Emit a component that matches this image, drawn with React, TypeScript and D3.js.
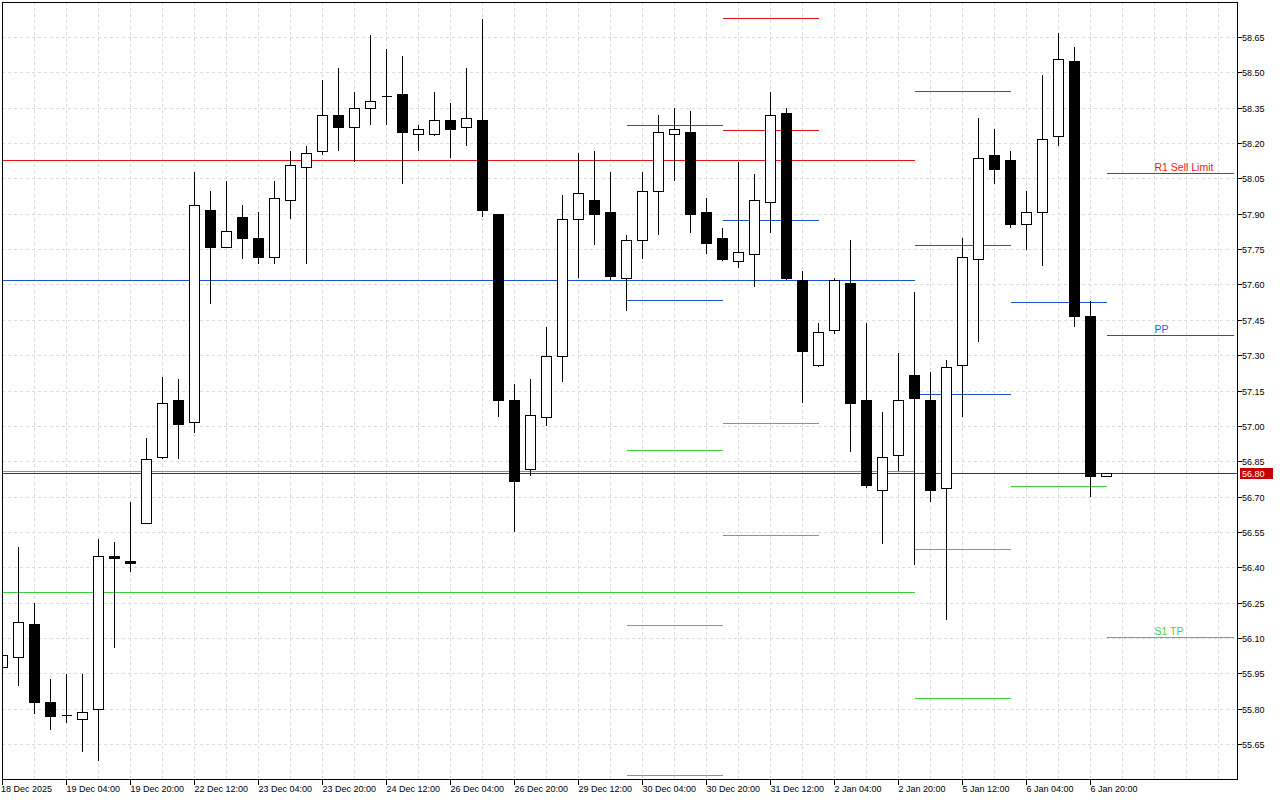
import React from "react";
import * as d3 from "d3";

// ---- data ----
const opens = [55.98,56.02,56.16,55.83,55.775,55.76,55.80,56.45,56.43,56.59,56.87,57.11,57.02,57.92,57.76,57.89,57.80,57.72,57.96,58.10,58.17,58.32,58.27,58.35,58.40,58.41,58.24,58.24,58.30,58.27,58.30,57.90,57.11,56.82,57.04,57.30,57.88,57.96,57.91,57.63,57.79,58.00,58.24,58.25,57.91,57.80,57.70,57.73,57.95,58.33,57.62,57.26,57.41,57.61,57.11,56.73,56.88,57.22,57.11,56.74,57.26,57.71,58.15,58.13,57.86,57.91,58.23,58.55,57.47,56.79];
const highs = [56.04,56.49,56.25,55.93,55.95,55.95,56.52,56.51,56.68,56.95,57.21,57.20,58.08,58.00,58.04,57.94,57.91,58.04,58.17,58.19,58.47,58.52,58.42,58.66,58.60,58.57,58.28,58.42,58.37,58.52,58.73,57.90,57.18,57.20,57.42,57.98,58.16,58.17,58.08,57.81,58.08,58.32,58.35,58.34,57.97,57.84,58.12,58.07,58.42,58.35,57.66,57.44,57.63,57.79,57.44,57.06,57.31,57.57,57.23,57.28,57.80,58.31,58.26,58.17,58.00,58.49,58.67,58.61,57.53,56.80];
const lows = [55.96,55.90,55.78,55.71,55.74,55.62,55.58,56.06,56.38,56.59,56.86,56.86,56.97,57.52,57.76,57.71,57.69,57.69,57.88,57.69,58.15,58.17,58.12,58.28,58.28,58.03,58.17,58.23,58.14,58.19,57.89,57.04,56.55,56.79,57.00,57.19,57.63,57.77,57.62,57.49,57.71,57.81,58.04,57.82,57.73,57.70,57.67,57.59,57.82,57.62,57.10,57.25,57.39,56.89,56.74,56.50,56.81,56.41,56.68,56.18,57.04,57.36,58.03,57.84,57.75,57.68,58.19,57.42,56.70,56.79];
const closes = [56.03,56.17,55.83,55.77,55.775,55.79,56.45,56.44,56.42,56.86,57.10,57.01,57.94,57.76,57.83,57.80,57.72,57.97,58.11,58.16,58.32,58.27,58.35,58.38,58.40,58.25,58.26,58.30,58.26,58.31,57.92,57.11,56.77,57.05,57.30,57.88,57.99,57.90,57.64,57.79,58.00,58.25,58.26,57.90,57.78,57.71,57.74,57.96,58.32,57.63,57.32,57.40,57.62,57.10,56.75,56.87,57.11,57.12,56.73,57.25,57.72,58.14,58.09,57.86,57.91,58.22,58.56,57.47,56.79,56.80];

const timeLabels = ["18 Dec 2025","19 Dec 04:00","19 Dec 20:00","22 Dec 12:00","23 Dec 04:00","23 Dec 20:00","24 Dec 12:00","26 Dec 04:00","26 Dec 20:00","29 Dec 12:00","30 Dec 04:00","30 Dec 20:00","31 Dec 12:00","2 Jan 04:00","2 Jan 20:00","5 Jan 12:00","6 Jan 04:00","6 Jan 20:00"];
const priceTicks = [55.65,55.80,55.95,56.10,56.25,56.40,56.55,56.70,56.85,57.00,57.15,57.30,57.45,57.60,57.75,57.90,58.05,58.20,58.35,58.50,58.65];
const currentPrice = 56.80;

// pivot level segments: [fromBar, toBar, kind, value]
const levelFrom = [-1,-1,-1,-1, 39,39,39,39,39, 45,45,45,45,45, 57,57,57,57,57, 63,63, 69,69,69];
const levelTo   = [57,57,57,57, 45,45,45,45,45, 51,51,51,51,51, 63,63,63,63,63, 69,69, 77,77,77];
const levelKind = ["R","P","S","S", "R","P","S","S","S", "R","R","P","S","S", "R","R","P","S","S", "P","S", "R","P","S"];
const levelValue = [58.126,57.617,56.809,56.295, 58.278,57.535,56.898,56.155,55.518, 58.732,58.257,57.875,57.013,56.537, 58.422,57.768,57.136,56.478,55.845, 57.526,56.745, 58.074,57.386,56.104];
const levelLabelKind = ["R","P","S"];
const levelLabelText = ["R1 Sell Limit","PP","S1 TP"];
const levelLabelValue = [58.074,57.386,56.104];
const levelLabelBar = 72;

const kindColor: Record<string,string> = { R: "#e61414", P: "#1a52d0", S: "#3ccf3c" };
const labelColor: Record<string,string> = { R: "#f01818", P: "#2060f0", S: "#44d444" };

export default function App() {
  const left = 2, top = 2, right = 1237, bottom = 779;
  const x = d3.scaleLinear().domain([0, 69]).range([2.5, 2.5 + 16 * 69]);
  const y = d3.scaleLinear().domain([55.65, 58.65]).range([744.5, 37.5]);
  const ry = (v: number) => Math.round(y(v) - 0.5) + 0.5;

  const gridXs = d3.range(2, 78, 2).map((i) => x(i)).filter((v) => v < right);
  const font = "'Liberation Sans', Arial, sans-serif";

  return (
    <svg width={1280} height={800} style={{ position: "absolute", left: 0, top: 0, background: "#fff" }}>
      <defs>
        <clipPath id="plot">
          <rect x={left} y={top} width={right - left} height={bottom - top} />
        </clipPath>
      </defs>
      <rect x={0} y={0} width={1280} height={800} fill="#fff" />
      {/* grid */}
      <g stroke="#dcdcdc" strokeDasharray="3,3" shapeRendering="crispEdges">
        {gridXs.map((gx, i) => (
          <line key={"gx" + i} x1={gx} x2={gx} y1={top} y2={bottom} />
        ))}
        {priceTicks.map((p, i) => (
          <line key={"gy" + i} x1={left} x2={right} y1={ry(p)} y2={ry(p)} />
        ))}
      </g>
      <g clipPath="url(#plot)" shapeRendering="crispEdges">
        {/* levels */}
        {levelValue.map((v, i) => (
          <line key={"lv" + i} x1={x(levelFrom[i])} x2={levelTo[i] === 77 ? x(levelTo[i]) - 0.5 : x(levelTo[i])} y1={ry(v)} y2={ry(v)} stroke={kindColor[levelKind[i]]} strokeWidth={1} />
        ))}
        {/* current price line */}
        <line x1={left} x2={right} y1={ry(currentPrice)} y2={ry(currentPrice)} stroke="#b80000" strokeWidth={1} />
        {/* candles */}
        {opens.map((o, i) => {
          const c = closes[i];
          const cx = x(i);
          const bull = c >= o;
          const yTop = Math.round(y(Math.max(o, c)));
          const yBot = Math.round(y(Math.min(o, c)));
          const h = yBot - yTop;
          return (
            <g key={"c" + i}>
              <line x1={cx} x2={cx} y1={Math.round(y(highs[i]))} y2={Math.round(y(lows[i]))} stroke="#000" strokeWidth={1} />
              {h < 1 ? (
                <line x1={cx - 5} x2={cx + 5} y1={yTop + 0.5} y2={yTop + 0.5} stroke="#000" strokeWidth={1} />
              ) : (
                <rect x={cx - 5} y={yTop + 0.5} width={10} height={h} fill={bull ? "#fff" : "#000"} stroke="#000" strokeWidth={1} />
              )}
            </g>
          );
        })}
      </g>
      {/* level labels */}
      {levelLabelText.map((t, i) => (
        <text key={"ll" + i} x={x(levelLabelBar)} y={ry(levelLabelValue[i]) - 3} fontFamily={font} fontSize={10.5} fill={labelColor[levelLabelKind[i]]}>
          {t}
        </text>
      ))}
      {/* frame */}
      <g shapeRendering="crispEdges" stroke="#000" fill="none">
        <line x1={left + 0.5} x2={left + 0.5} y1={top} y2={bottom + 6} />
        <line x1={left} x2={right + 1} y1={top + 0.5} y2={top + 0.5} />
        <line x1={right + 0.5} x2={right + 0.5} y1={top} y2={bottom + 1} />
        <line x1={left} x2={right + 1} y1={bottom + 0.5} y2={bottom + 0.5} />
      </g>
      {/* bottom axis */}
      <g fontFamily={font} fontSize={9} fill="#000">
        {timeLabels.map((t, k) => {
          const tx = x(k * 4);
          return (
            <g key={"t" + k}>
              <line x1={tx} x2={tx} y1={bottom} y2={bottom + 6} stroke="#000" shapeRendering="crispEdges" />
              <text x={k === 0 ? tx - 1.5 : tx} y={791.5}>{t}</text>
            </g>
          );
        })}
      </g>
      {/* right axis */}
      <g fontFamily={font} fontSize={9} fill="#000">
        {priceTicks.map((p, i) => (
          <g key={"p" + i}>
            <line x1={right} x2={right + 5} y1={ry(p)} y2={ry(p)} stroke="#000" shapeRendering="crispEdges" />
            <text x={1242} y={ry(p)} dy="0.35em">{p.toFixed(2)}</text>
          </g>
        ))}
      </g>
      {/* current price label */}
      <rect x={1240} y={ry(currentPrice) - 5.5} width={33} height={11} fill="#c80000" />
      <text x={1242} y={ry(currentPrice)} dy="0.35em" fontFamily={font} fontSize={9} fill="#fff">
        {currentPrice.toFixed(2)}
      </text>
    </svg>
  );
}
